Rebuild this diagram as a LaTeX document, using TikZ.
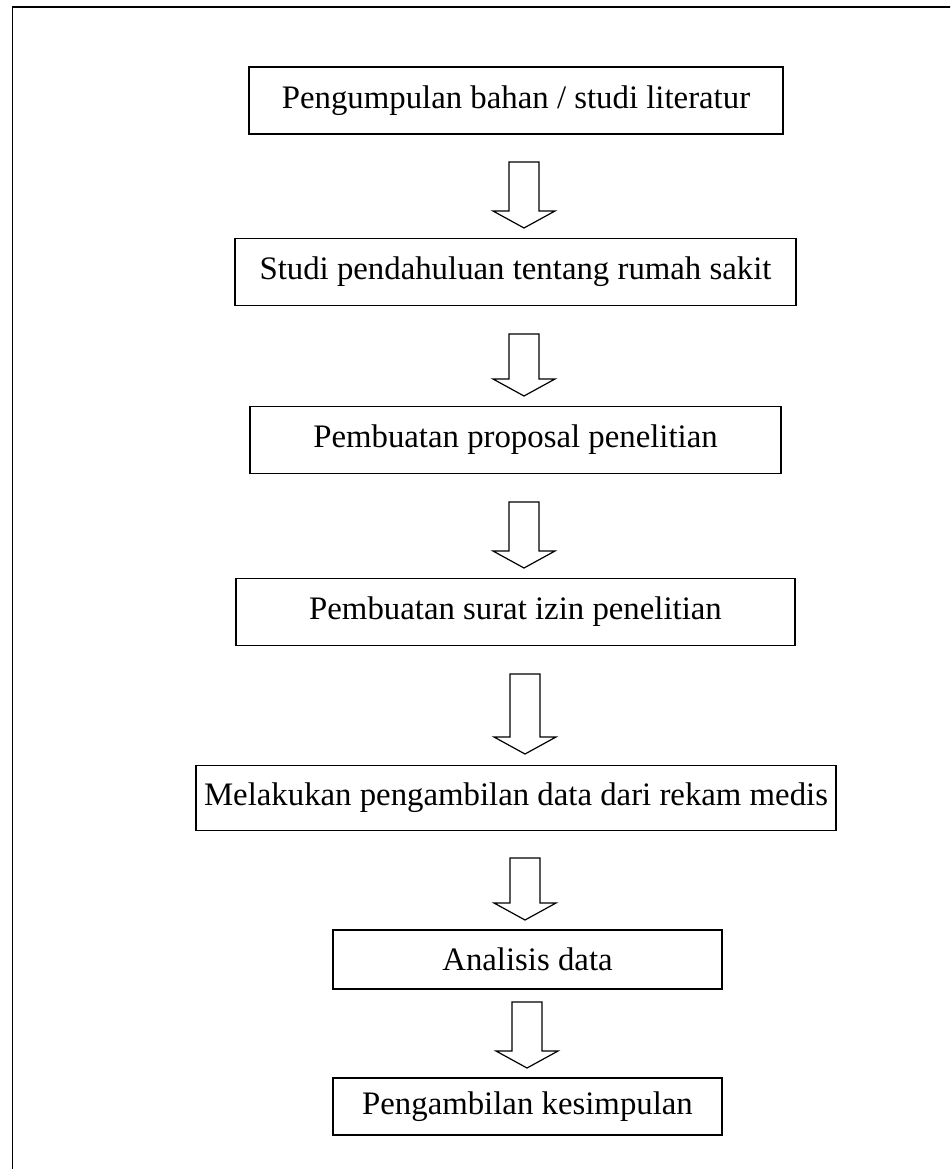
\documentclass[tikz,border=0pt]{standalone}
\usepackage{fontspec}
\setmainfont{Liberation Serif}
\newcommand{\blockarr}[3]{% x center, top, tip
  \draw[blockarrow] (#1-15,#2) -- (#1+15,#2) -- (#1+15,#3-17) -- (#1+31,#3-17) -- (#1,#3) -- (#1-31,#3-17) -- (#1-15,#3-17) -- cycle;}
\begin{document}
\begin{tikzpicture}[x=1pt,y=-1pt,
  box/.style={draw,line width=1.8pt,inner sep=0pt,font=\fontsize{32.8}{38}\selectfont},
  blockarrow/.style={draw,line width=1.2pt,line join=miter}]
\useasboundingbox (0,0) rectangle (950,1169);
\begin{scope}
\clip (0,0) rectangle (950,1169);
\draw[line width=1.3pt] (12.7,1200) -- (12.7,7) -- (1000,7);
\end{scope}
\node[box,minimum width=534pt,minimum height=67pt] (b1) at (516,100.5) {Pengumpulan bahan / studi literatur};
\node[box,minimum width=561pt,minimum height=67pt] (b2) at (515.5,272) {Studi pendahuluan tentang rumah sakit};
\node[box,minimum width=531pt,minimum height=67pt] (b3) at (515.5,440) {Pembuatan proposal penelitian};
\node[box,minimum width=559pt,minimum height=67pt] (b4) at (515.5,612) {Pembuatan surat izin penelitian};
\node[box,minimum width=640pt,minimum height=65pt] (b5) at (516,798) {Melakukan pengambilan data dari rekam medis};
\node[box,minimum width=389pt,minimum height=59pt] (b6) at (527.5,959.5) {Analisis data};
\node[box,minimum width=389pt,minimum height=57pt] (b7) at (527.5,1106.5) {Pengambilan kesimpulan};
\blockarr{524}{162}{228}
\blockarr{524}{334}{396}
\blockarr{524}{502}{568}
\blockarr{525}{674}{754}
\blockarr{525}{858}{920}
\blockarr{527}{1002}{1068}
\end{tikzpicture}
\end{document}
